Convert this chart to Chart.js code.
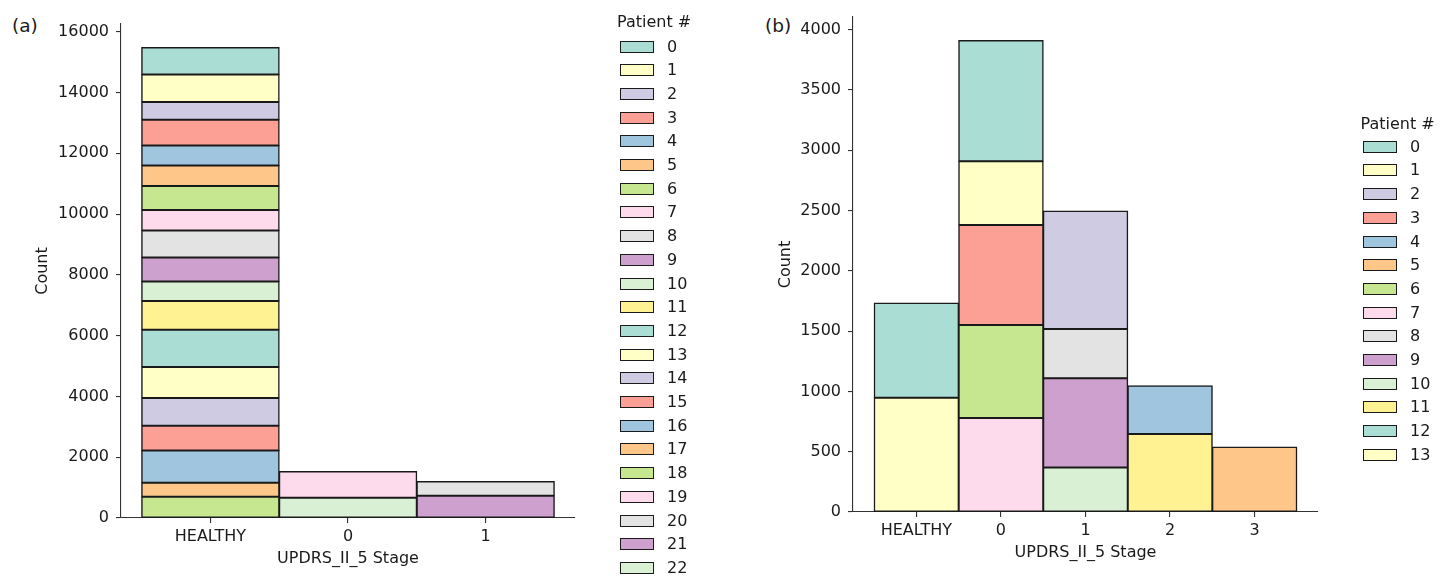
<!DOCTYPE html>
<html>
<head>
<meta charset="utf-8">
<script src="https://cdn.jsdelivr.net/npm/chart.js@4.4.1/dist/chart.umd.min.js"></script>
<style>
  body { margin: 0; background: #fff; width: 1447px; height: 576px; position: relative; overflow: hidden;
         font-family: "DejaVu Sans", sans-serif; color: #1a1a1a; }
  canvas { position: absolute; top: 0; }
  #chartA { left: 0; }
  #chartB { left: 740px; }
  .tag { position: absolute; font-size: 18.5px; line-height: 20px; }
  .lg-title, .lg-label { position: absolute; font-size: 16px; line-height: 18px; white-space: nowrap; }
  .lg-box { position: absolute; width: 34px; height: 12px; box-sizing: border-box; border: 1.6px solid #1a1a1a; }
</style>
</head>
<body>
<div class="tag" style="left:12px; top:16px;">(a)</div>
<div class="tag" style="left:765px; top:16px;">(b)</div>
<canvas id="chartA" width="740" height="576"></canvas>
<canvas id="chartB" width="707" height="576"></canvas>
<div id="legendA"></div>
<div id="legendB"></div>
<script>
// ─── DATA ────────────────────────────────────────────────────────────────
// (a) : 23 patients, chaque patient dans un seul stade
const stagesA = ['HEALTHY', '0', '1'];
const patientStageA = [0, 0, 0, 0, 0, 0, 0, 0, 0, 0, 0, 0, 0, 0, 0, 0, 0, 0, 0, 1, 2, 2, 1];
const patientCountA = [888, 908, 582, 845, 658, 678, 789, 671, 889, 789, 645, 944,
                       1227, 1020, 911, 812, 1063, 460, 701, 865, 470, 734, 668];
const yTicksA = [0, 2000, 4000, 6000, 8000, 10000, 12000, 14000, 16000];

// (b) : 14 patients
const stagesB = ['HEALTHY', '0', '1', '2', '3'];
const patientStageB = [1, 1, 2, 1, 3, 4, 1, 1, 2, 2, 2, 3, 0, 0];
const patientCountB = [1001, 528, 978, 829, 400, 539, 771, 780, 410, 738, 370, 647, 785, 948];
const yTicksB = [0, 500, 1000, 1500, 2000, 2500, 3000, 3500, 4000];

// ─── STYLE ───────────────────────────────────────────────────────────────
const palette = ['#8dd3c7', '#ffffb3', '#bebada', '#fb8072', '#80b1d3', '#fdb462',
                 '#b3de69', '#fccde5', '#d9d9d9', '#bc80bd', '#ccebc5', '#ffed6f'];
const fillAlpha = 0.75;
const ink = '#1a1a1a';
const spine = '#333';
const edge = '#1a1a1a';
const font = { family: "'DejaVu Sans', sans-serif", size: 16 };

// couleur Set3 à 75 % d'opacité, pré-mélangée sur fond blanc
function tint(hex, a) {
    const n = parseInt(hex.slice(1), 16);
    const mix = c => Math.round(c * a + 255 * (1 - a));
    return `rgb(${mix(n >> 16)}, ${mix((n >> 8) & 255)}, ${mix(n & 255)})`;
}

function makeChart(id, stages, stageOf, counts, yTicks, lay) {
    const n = stages.length;
    const totals = stages.map((_, s) => counts.reduce((t, c, p) => t + (stageOf[p] === s ? c : 0), 0));
    const yMax = Math.max(...totals) * 1.05;

    // seaborn empile le premier patient en haut -> ordre inverse
    const datasets = counts.map((c, p) => ({
        label: String(p),
        data: [{ x: stageOf[p], y: c }],
        backgroundColor: tint(palette[p % palette.length], fillAlpha),
        borderColor: edge,
        borderWidth: 1.5,
        borderSkipped: false,
        inflateAmount: 0.5,
        barPercentage: 1,
        categoryPercentage: 1
    })).reverse();

    const axisBorder = { display: true, color: spine, width: 1.1 };
    const tickGrid = { display: true, offset: false, drawOnChartArea: false, tickLength: 5, color: spine, lineWidth: 1.1 };

    return new Chart(document.getElementById(id), {
        type: 'bar',
        data: { datasets },
        options: {
            responsive: false,
            animation: false,
            layout: { padding: lay.padding },
            plugins: { legend: { display: false }, tooltip: { enabled: false } },
            scales: {
                x: {
                    type: 'linear',
                    stacked: true,
                    offset: false,
                    min: -0.5 - 0.05 * n,
                    max: n - 0.5 + 0.05 * n,
                    afterBuildTicks: s => { s.ticks = stages.map((_, i) => ({ value: i })); },
                    afterFit: s => { s.height = lay.xHeight; },
                    ticks: { callback: v => stages[v], font, color: ink, padding: 4, maxRotation: 0 },
                    grid: tickGrid,
                    border: axisBorder,
                    title: { display: true, text: 'UPDRS_II_5 Stage', font, color: ink,
                             padding: { top: 0, bottom: lay.xTitlePad } }
                },
                y: {
                    stacked: true,
                    min: 0,
                    max: yMax,
                    afterBuildTicks: s => { s.ticks = yTicks.map(v => ({ value: v })); },
                    afterFit: s => { s.width = lay.yWidth; },
                    ticks: { callback: v => String(v), font, color: ink, padding: 7 },
                    grid: tickGrid,
                    border: axisBorder,
                    title: { display: true, text: 'Count', font, color: ink,
                             padding: { top: lay.yTitlePad, bottom: 0 } }
                }
            }
        }
    });
}

function makeLegend(id, count, pos) {
    const el = document.getElementById(id);
    let html = `<div class="lg-title" style="left:${pos.titleX}px; top:${pos.titleY - 9}px;">Patient #</div>`;
    for (let p = 0; p < count; p++) {
        const cy = pos.firstY + p * pos.step;
        const col = tint(palette[p % palette.length], fillAlpha);
        html += `<div class="lg-box" style="left:${pos.boxX}px; top:${cy - 6}px; background:${col};"></div>`;
        html += `<div class="lg-label" style="left:${pos.textX}px; top:${cy - 9}px;">${p}</div>`;
    }
    el.innerHTML = html;
}

makeChart('chartA', stagesA, patientStageA, patientCountA, yTicksA,
    { padding: { top: 24, right: 165, bottom: 0, left: 0 }, xHeight: 58, yWidth: 121, xTitlePad: 8, yTitlePad: 33.5 });
makeChart('chartB', stagesB, patientStageB, patientCountB, yTicksB,
    { padding: { top: 17, right: 129, bottom: 0, left: 0 }, xHeight: 64, yWidth: 113, xTitlePad: 13.5, yTitlePad: 36.5 });

makeLegend('legendA', patientCountA.length, { titleX: 617, titleY: 22, boxX: 620, textX: 667, firstY: 46.5, step: 23.7 });
makeLegend('legendB', patientCountB.length, { titleX: 1360.5, titleY: 124, boxX: 1363, textX: 1410, firstY: 146.7, step: 23.7 });
</script>
</body>
</html>
